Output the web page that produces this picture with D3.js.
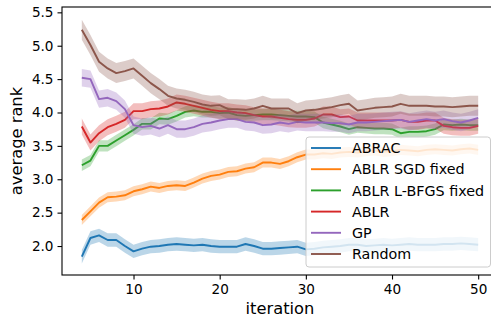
<!DOCTYPE html>
<html>
<head>
<meta charset="utf-8">
<script src="https://cdn.jsdelivr.net/npm/d3@7"></script>
<style>
  body { margin: 0; background: #fff; }
  svg text { font-family: "DejaVu Sans", sans-serif; fill: #000; }
</style>
</head>
<body>
<div id="chart"></div>
<script>
var iterations = d3.range(4, 51);

var seriesNames = ["ABRAC", "ABLR SGD fixed", "ABLR L-BFGS fixed", "ABLR", "GP", "Random"];
var seriesColors = ["#1f77b4", "#ff7f0e", "#2ca02c", "#d62728", "#9467bd", "#8c564b"];

var abrac = [1.84, 2.12, 2.16, 2.09, 2.09, 2.00, 1.92, 1.96, 1.99, 2.00, 2.02, 2.03, 2.02, 2.01, 2.02, 2.00,
  1.99, 1.99, 1.99, 2.03, 2.00, 1.96, 1.96, 1.97, 1.98, 1.99, 1.95, 1.96, 1.98, 1.99, 2.00, 2.02, 2.02,
  2.00, 2.01, 2.02, 2.01, 2.02, 2.03, 2.02, 2.02, 2.02, 2.03, 2.03, 2.04, 2.03, 2.02];
var ablrSgd = [2.39, 2.52, 2.65, 2.73, 2.74, 2.76, 2.82, 2.85, 2.89, 2.87, 2.90, 2.91, 2.90, 2.95, 3.01, 3.05,
  3.07, 3.11, 3.12, 3.16, 3.18, 3.25, 3.25, 3.23, 3.27, 3.33, 3.37, 3.37, 3.39, 3.38, 3.40, 3.41, 3.40,
  3.42, 3.43, 3.41, 3.42, 3.44, 3.43, 3.42, 3.44, 3.45, 3.44, 3.43, 3.45, 3.46, 3.44];
var ablrLbfgs = [3.21, 3.28, 3.50, 3.50, 3.58, 3.66, 3.74, 3.83, 3.83, 3.91, 3.90, 3.95, 4.01, 4.03, 4.01, 4.01,
  3.99, 4.00, 3.96, 3.95, 3.96, 3.97, 3.97, 3.96, 3.95, 3.94, 3.94, 3.93, 3.85, 3.82, 3.79, 3.75, 3.78,
  3.77, 3.76, 3.76, 3.75, 3.69, 3.71, 3.71, 3.72, 3.75, 3.82, 3.81, 3.82, 3.81, 3.81];
var ablr = [3.79, 3.55, 3.69, 3.78, 3.83, 3.89, 4.02, 4.02, 4.05, 4.06, 4.09, 4.15, 4.13, 4.10, 4.07, 4.04,
  4.02, 4.02, 4.00, 3.99, 3.96, 3.94, 3.94, 3.92, 3.90, 3.89, 3.89, 3.91, 3.97, 3.97, 3.93, 3.94, 3.88,
  3.88, 3.88, 3.88, 3.88, 3.89, 3.86, 3.86, 3.88, 3.88, 3.80, 3.78, 3.77, 3.77, 3.80];
var gp = [4.52, 4.50, 4.20, 4.22, 4.17, 4.05, 3.81, 3.78, 3.80, 3.76, 3.81, 3.75, 3.75, 3.78, 3.83, 3.85,
  3.88, 3.90, 3.90, 3.86, 3.85, 3.81, 3.82, 3.85, 3.83, 3.86, 3.85, 3.85, 3.85, 3.84, 3.84, 3.82, 3.85,
  3.85, 3.86, 3.87, 3.88, 3.89, 3.86, 3.88, 3.90, 3.88, 3.90, 3.87, 3.85, 3.88, 3.92];
var random = [5.24, 5.01, 4.76, 4.66, 4.59, 4.62, 4.66, 4.55, 4.44, 4.35, 4.25, 4.21, 4.19, 4.16, 4.12, 4.10,
  4.11, 4.05, 4.05, 4.04, 4.06, 4.10, 4.06, 4.06, 4.06, 3.99, 4.03, 4.04, 4.06, 4.08, 4.11, 4.13, 4.03,
  4.05, 4.07, 4.08, 4.09, 4.13, 4.10, 4.10, 4.10, 4.09, 4.09, 4.08, 4.09, 4.10, 4.10];

// half height of the shaded band around each mean
var bandHalf = [0.10, 0.075, 0.085, 0.12, 0.13, 0.15];

var xTicks = [10, 20, 30, 40, 50];
var yTicks = [2.0, 2.5, 3.0, 3.5, 4.0, 4.5, 5.0, 5.5];

var seriesValues = [abrac, ablrSgd, ablrLbfgs, ablr, gp, random];

var width = 491, height = 317;
var plotLeft = 62, plotRight = 498, plotTop = 7, plotBottom = 275;

var svg = d3.select("#chart")
  .append("svg")
  .attr("width", width)
  .attr("height", height);

var x = d3.scaleLinear().domain([1.7, 52.3]).range([plotLeft, plotRight]);
var y = d3.scaleLinear().domain([1.566, 5.58]).range([plotBottom, plotTop]);

var plot = svg.append("g");

seriesValues.forEach(function(vals, k) {
  var data = iterations.map(function(it, i) { return {x: it, y: vals[i]}; });
  var area = d3.area()
    .x(function(d) { return x(d.x); })
    .y0(function(d) { return y(d.y - bandHalf[k]); })
    .y1(function(d) { return y(d.y + bandHalf[k]); });
  var line = d3.line()
    .x(function(d) { return x(d.x); })
    .y(function(d) { return y(d.y); });

  plot.append("path")
    .datum(data)
    .attr("d", area)
    .attr("fill", seriesColors[k])
    .attr("fill-opacity", 0.3)
    .attr("stroke", "none");

  plot.append("path")
    .datum(data)
    .attr("d", line)
    .attr("fill", "none")
    .attr("stroke", seriesColors[k])
    .attr("stroke-width", 1.9)
    .attr("stroke-linejoin", "round");
});

// axes
var xAxis = d3.axisBottom(x).tickValues(xTicks).tickSize(4.5).tickPadding(5).tickFormat(d3.format("d"));
var yAxis = d3.axisLeft(y).tickValues(yTicks).tickSize(4.5).tickPadding(4).tickFormat(d3.format(".1f"));

var gx = svg.append("g").attr("transform", "translate(0," + plotBottom + ")").call(xAxis);
var gy = svg.append("g").attr("transform", "translate(" + plotLeft + ",0)").call(yAxis);

[gx, gy].forEach(function(g) {
  g.select(".domain").remove();
  g.selectAll(".tick line").attr("stroke", "#000").attr("stroke-width", 1.1);
  g.selectAll(".tick text").style("font-size", "13.6px").attr("fill", "#000");
});

// spines (right one falls outside the picture)
svg.append("rect")
  .attr("x", plotLeft)
  .attr("y", plotTop)
  .attr("width", plotRight - plotLeft)
  .attr("height", plotBottom - plotTop)
  .attr("fill", "none")
  .attr("stroke", "#000")
  .attr("stroke-width", 1.1);

svg.append("text")
  .attr("x", (plotLeft + plotRight) / 2)
  .attr("y", 314)
  .attr("text-anchor", "middle")
  .style("font-size", "16.3px")
  .text("iteration");

svg.append("text")
  .attr("transform", "translate(22," + ((plotTop + plotBottom) / 2) + ") rotate(-90)")
  .attr("text-anchor", "middle")
  .style("font-size", "16.3px")
  .text("average rank");

// legend
var legend = svg.append("g");
legend.append("rect")
  .attr("x", 306)
  .attr("y", 137)
  .attr("width", 184.5)
  .attr("height", 130)
  .attr("rx", 3)
  .attr("fill", "#fff")
  .attr("fill-opacity", 0.8)
  .attr("stroke", "#ccc")
  .attr("stroke-width", 1);

seriesNames.forEach(function(name, k) {
  var ly = 148 + k * 21.2;
  legend.append("line")
    .attr("x1", 311)
    .attr("x2", 341)
    .attr("y1", ly)
    .attr("y2", ly)
    .attr("stroke", seriesColors[k])
    .attr("stroke-width", 1.9);
  legend.append("text")
    .attr("x", 352)
    .attr("y", ly)
    .attr("dy", "0.36em")
    .style("font-size", "14.3px")
    .text(name);
});
</script>
</body>
</html>
